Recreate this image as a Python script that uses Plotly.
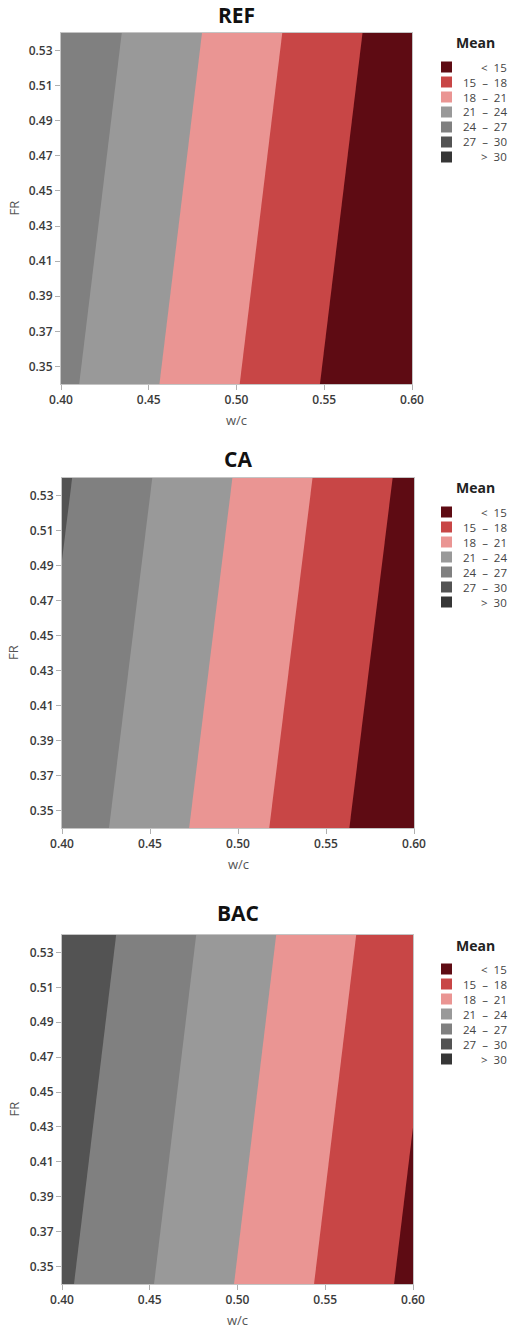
import plotly.graph_objects as go

W, H = 510, 1332

# Grid of the fitted response: rows follow fr, columns follow wc
wc = [0.40, 0.60]
fr = [0.34, 0.54]
ref_mean = [[24.68, 11.56], [26.27, 13.15]]
ca_mean = [[25.76, 12.58], [27.38, 14.20]]
bac_mean = [[27.45, 14.29], [29.03, 15.87]]

panel_names = ["REF", "CA", "BAC"]
panel_data = [ref_mean, ca_mean, bac_mean]

band_labels = ["<  15", "15  –  18", "18  –  21", "21  –  24", "24  –  27", "27  –  30", ">  30"]
band_colors = ["#5e0b13", "#c84646", "#ea9593", "#999999", "#808080", "#535353", "#363636"]

x_ticks = [0.40, 0.45, 0.50, 0.55, 0.60]
y_ticks = [0.35, 0.37, 0.39, 0.41, 0.43, 0.45, 0.47, 0.49, 0.51, 0.53]

# plot boxes in pixels: left, right, top, bottom
boxes = [(61, 412, 33, 384), (62, 414, 478, 828), (62, 413, 935, 1284)]
title_gap = [18, 19, 22]

FONT = "Open Sans"


def px_x(v):
    return v / W


def px_y(v):
    return 1 - v / H


colorscale = [[i / (len(band_colors) - 1), c] for i, c in enumerate(band_colors)]

fig = go.Figure()
annotations = []
shapes = []

for i, (name, z) in enumerate(zip(panel_names, panel_data)):
    n = "" if i == 0 else str(i + 1)
    left, right, top, bottom = boxes[i]
    fig.add_trace(go.Contour(
        x=wc, y=fr, z=z,
        autocontour=False,
        contours=dict(start=15, end=30, size=3, coloring="fill", showlines=False),
        colorscale=colorscale,
        showscale=False,
        line=dict(width=0),
        hoverinfo="skip",
        xaxis="x" + n, yaxis="y" + n,
    ))
    axis_common = dict(
        ticks="outside", ticklen=5, tickcolor="#b0b0b0",
        showline=True, linecolor="#c4c4c4", mirror=True, showgrid=False, zeroline=False,
        automargin=False, tickformat=".2f",
        tickfont=dict(family=FONT, size=12, color="#3a3a3a", weight=600),
    )
    fig.layout["xaxis" + n] = dict(
        domain=[px_x(left), px_x(right)], anchor="y" + n,
        range=[0.40, 0.60], tickvals=x_ticks, **axis_common,
    )
    fig.layout["yaxis" + n] = dict(
        domain=[px_y(bottom), px_y(top)], anchor="x" + n,
        range=[0.34, 0.54], tickvals=y_ticks, **axis_common,
    )
    # axis titles
    annotations.append(dict(
        x=px_x((left + right) / 2), y=px_y(bottom + 36), xref="paper", yref="paper",
        text="w/c", showarrow=False, xanchor="center", yanchor="middle",
        font=dict(family=FONT, size=13, color="#555555"),
    ))
    annotations.append(dict(
        x=px_x(13), y=px_y((top + bottom) / 2), xref="paper", yref="paper",
        text="FR", showarrow=False, xanchor="center", yanchor="middle", textangle=-90,
        font=dict(family=FONT, size=13, color="#555555"),
    ))
    # panel title
    annotations.append(dict(
        x=px_x((left + right) / 2), y=px_y(top - title_gap[i]), xref="paper", yref="paper",
        text="<b>%s</b>" % name, showarrow=False, xanchor="center", yanchor="middle",
        font=dict(family=FONT, size=21, color="#111111"),
    ))
    # legend block
    annotations.append(dict(
        x=px_x(475), y=px_y(top + 10), xref="paper", yref="paper",
        text="<b>Mean</b>", showarrow=False, xanchor="center", yanchor="middle",
        font=dict(family=FONT, size=14, color="#222222"),
    ))
    for k, (lab, col) in enumerate(zip(band_labels, band_colors)):
        cy = top + 34 + 15 * k
        shapes.append(dict(
            type="rect", xref="paper", yref="paper",
            x0=px_x(441), x1=px_x(452), y0=px_y(cy + 5.5), y1=px_y(cy - 5.5),
            fillcolor=col, line=dict(width=0),
        ))
        annotations.append(dict(
            x=px_x(509), y=px_y(cy), xref="paper", yref="paper",
            text=lab, showarrow=False, xanchor="right", yanchor="middle",
            font=dict(family=FONT, size=11.5, color="#444444"),
        ))

fig.update_layout(
    width=W, height=H,
    margin=dict(l=0, r=0, t=0, b=0),
    paper_bgcolor="white", plot_bgcolor="white",
    showlegend=False,
    annotations=annotations,
    shapes=shapes,
    font=dict(family=FONT),
)

fig.write_html("out.html")
